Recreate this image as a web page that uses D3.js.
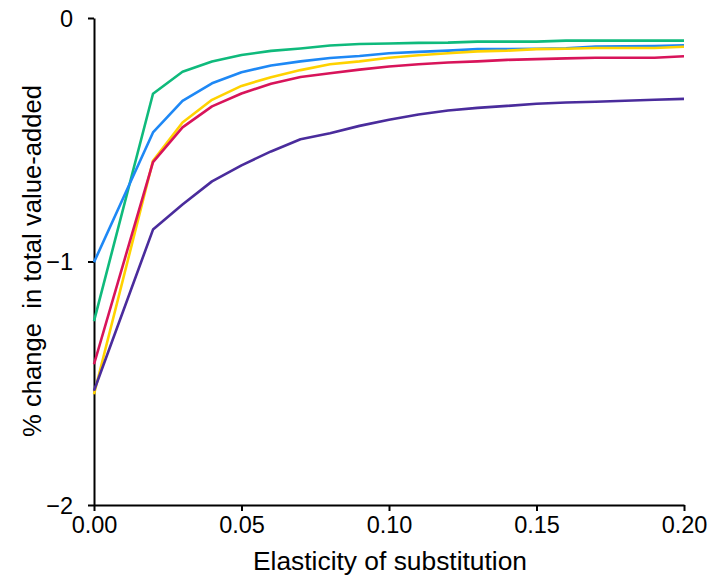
<!DOCTYPE html>
<html>
<head>
<meta charset="utf-8">
<script src="https://cdn.jsdelivr.net/npm/d3@7"></script>
<style>
html,body{margin:0;padding:0;background:#fff;}
svg{display:block;}
text{font-family:Arial,"Liberation Sans",sans-serif;fill:#000;}
</style>
</head>
<body>
<svg id="chart" width="718" height="579"></svg>
<script>
const elasticity = [0.00, 0.02, 0.03, 0.04, 0.05, 0.06, 0.07, 0.08, 0.09, 0.10, 0.11, 0.12, 0.13, 0.14, 0.15, 0.16, 0.17, 0.18, 0.19, 0.20];
const seriesGreen  = [-1.245, -0.311, -0.221, -0.179, -0.152, -0.135, -0.125, -0.113, -0.107, -0.105, -0.102, -0.101, -0.097, -0.097, -0.097, -0.093, -0.093, -0.093, -0.093, -0.093];
const seriesBlue   = [-1.003, -0.470, -0.340, -0.268, -0.223, -0.195, -0.178, -0.164, -0.156, -0.145, -0.139, -0.134, -0.128, -0.128, -0.126, -0.124, -0.117, -0.116, -0.115, -0.112];
const seriesYellow = [-1.545, -0.586, -0.429, -0.336, -0.279, -0.243, -0.214, -0.190, -0.178, -0.163, -0.153, -0.145, -0.137, -0.134, -0.128, -0.126, -0.123, -0.123, -0.123, -0.118];
const seriesRed    = [-1.422, -0.592, -0.449, -0.363, -0.310, -0.270, -0.242, -0.227, -0.212, -0.199, -0.190, -0.183, -0.178, -0.172, -0.169, -0.166, -0.163, -0.163, -0.163, -0.157];
const seriesPurple = [-1.531, -0.869, -0.766, -0.671, -0.605, -0.548, -0.498, -0.473, -0.443, -0.418, -0.396, -0.380, -0.369, -0.361, -0.352, -0.347, -0.344, -0.340, -0.336, -0.332];
const xTicks = [0.00, 0.05, 0.10, 0.15, 0.20];
const yTicks = [0, -1, -2];
const xTitle = "Elasticity of substitution";
const yTitle = "% change  in total value-added";

const series = [
  {values: seriesGreen,  color: "#0fba7c"},
  {values: seriesBlue,   color: "#1e88f5"},
  {values: seriesYellow, color: "#ffd200"},
  {values: seriesRed,    color: "#d8145a"},
  {values: seriesPurple, color: "#4a2c9c"}
];

const svg = d3.select("#chart");
const x = d3.scaleLinear().domain([0, 0.20]).range([94, 684]);
const y = d3.scaleLinear().domain([-2, 0]).range([505, 18]);

const xAxis = d3.axisBottom(x).tickValues(xTicks).tickFormat(d3.format(".2f")).tickSize(6).tickPadding(5).tickSizeOuter(0);
const yAxis = d3.axisLeft(y).tickValues(yTicks).tickFormat(d => d3.format("d")(d)).tickSize(6).tickPadding(15).tickSizeOuter(0);

const gx = svg.append("g").attr("transform", `translate(0,${y(-2)})`).call(xAxis);
const gy = svg.append("g").attr("transform", `translate(${x(0)},0)`).call(yAxis);
[gx, gy].forEach(g => {
  g.select(".domain").attr("stroke", "#000").attr("stroke-width", 2);
  g.selectAll(".tick line").attr("stroke", "#000").attr("stroke-width", 2);
  g.selectAll(".tick text").attr("font-size", 23.5).attr("font-family", "Arial, 'Liberation Sans', sans-serif").attr("fill", "#000");
});
gy.selectAll(".tick text").attr("dy", "0.36em");

const line = d3.line().x((d, i) => x(elasticity[i])).y(d => y(d));
svg.append("g").selectAll("path.series").data(series).join("path")
  .attr("class", "series")
  .attr("d", s => line(s.values))
  .attr("fill", "none")
  .attr("stroke", s => s.color)
  .attr("stroke-width", 2.6)
  .attr("stroke-linejoin", "round");

svg.append("text").attr("x", 390).attr("y", 570)
  .attr("text-anchor", "middle").attr("font-size", 25).attr("textLength", 274).attr("lengthAdjust", "spacingAndGlyphs").text(xTitle);
svg.append("text").attr("transform", `translate(41,261) rotate(-90)`)
  .attr("text-anchor", "middle").attr("font-size", 25).attr("xml:space", "preserve").style("white-space", "pre")
  .attr("textLength", 352).attr("lengthAdjust", "spacingAndGlyphs").text(yTitle);
</script>
</body>
</html>
